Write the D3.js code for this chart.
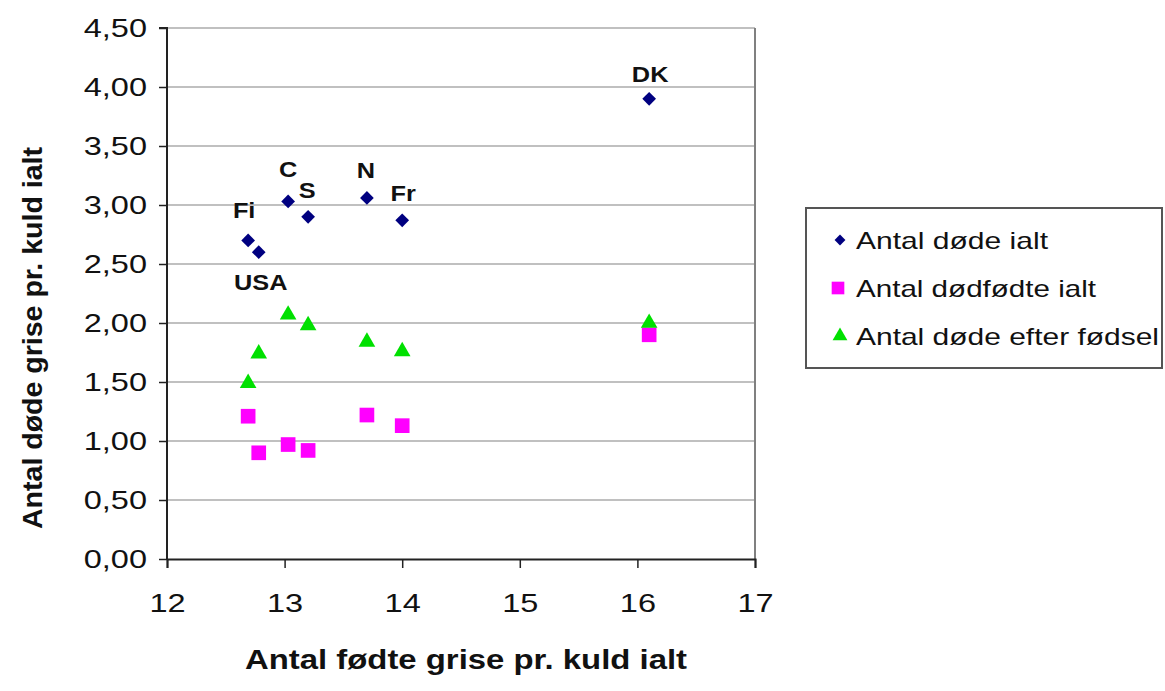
<!DOCTYPE html>
<html><head><meta charset="utf-8">
<script src="https://cdn.jsdelivr.net/npm/d3@7"></script>
<style>body{margin:0;background:#fff;} svg{display:block;font-family:"Liberation Sans",Arial,sans-serif;}</style>
</head><body>
<svg id="chart" width="1165" height="691"></svg>
<script>
const countries = ["Fi","USA","C","S","N","Fr","DK"];
const born = [12.69, 12.78, 13.03, 13.20, 13.70, 14.00, 16.10];
const deadTotal = [2.70, 2.60, 3.03, 2.90, 3.06, 2.87, 3.90];
const stillborn = [1.21, 0.90, 0.97, 0.92, 1.22, 1.13, 1.90];
const deadAfter = [1.49, 1.74, 2.07, 1.98, 1.84, 1.76, 2.00];
const xTicks = [12, 13, 14, 15, 16, 17];
const yTicks = [0, 0.5, 1, 1.5, 2, 2.5, 3, 3.5, 4, 4.5];
const seriesNames = ["Antal døde ialt", "Antal dødfødte ialt", "Antal døde efter fødsel"];
const seriesColors = ["#000080", "#ff00ff", "#00e000"];
const labelOffsets = {Fi:[-4,-30], USA:[2,30], C:[0,-32], S:[-1,-26], N:[-1,-27], Fr:[1,-27], DK:[1,-24]};

const svg = d3.select("#chart");
const x = d3.scaleLinear().domain([12,17]).range([167,755]);
const y = d3.scaleLinear().domain([0,4.5]).range([559,28]);
const fmt = v => d3.format(".2f")(v).replace(".", ",");
const FONT = '"Liberation Sans",Arial,sans-serif';

function stretch(sel, f) {
  sel.each(function(){
    const w = this.getComputedTextLength();
    d3.select(this).attr("textLength", w*f).attr("lengthAdjust", "spacingAndGlyphs");
  });
}

// gridlines
svg.append("g").selectAll("line").data(yTicks.filter(d=>d>0)).join("line")
  .attr("x1", x(12)).attr("x2", x(17)).attr("y1", d=>y(d)).attr("y2", d=>y(d))
  .attr("stroke", "#ababab").attr("stroke-width", 1.5);
// right border
svg.append("line").attr("x1", x(17)).attr("x2", x(17)).attr("y1", y(4.5)).attr("y2", y(0))
  .attr("stroke", "#808080").attr("stroke-width", 2);

// axes
const yAxis = svg.append("g").attr("transform", `translate(${x(12)},0)`)
  .call(d3.axisLeft(y).tickValues(yTicks).tickFormat(fmt).tickSize(8).tickPadding(12));
const xAxis = svg.append("g").attr("transform", `translate(0,${y(0)})`)
  .call(d3.axisBottom(x).tickValues(xTicks).tickFormat(d=>d).tickSize(9).tickPadding(26));
[yAxis, xAxis].forEach(a => {
  a.select(".domain").attr("stroke", "#222").attr("stroke-width", 2);
  a.selectAll(".tick line").attr("stroke", "#222").attr("stroke-width", 1.5);
  a.selectAll(".tick text").attr("fill", "#111").style("font-size", "25px").style("font-family", FONT);
});
yAxis.select(".domain").attr("d", `M-8,${y(4.5)}H0V${y(0)}`);
stretch(yAxis.selectAll(".tick text"), 1.3);
stretch(xAxis.selectAll(".tick text"), 1.3);

// axis titles
const xt = svg.append("text").attr("x", 466).attr("y", 669).attr("text-anchor", "middle")
  .style("font-size", "27px").style("font-weight", "bold").attr("fill", "#111")
  .text("Antal fødte grise pr. kuld ialt");
xt.attr("textLength", 442).attr("lengthAdjust", "spacingAndGlyphs");
const yt = svg.append("text").attr("transform", "translate(42,338) rotate(-90)").attr("text-anchor", "middle")
  .style("font-size", "27px").style("font-weight", "bold").attr("fill", "#111")
  .text("Antal døde grise pr. kuld ialt");
yt.attr("textLength", 382).attr("lengthAdjust", "spacingAndGlyphs");

const data = countries.map((c,i)=>({c, x:born[i], a:deadTotal[i], s:stillborn[i], t:deadAfter[i]}));
const diamond = d3.symbol().type(d3.symbolDiamond2).size(120);
const square = d3.symbol().type(d3.symbolSquare).size(215);
const triangle = d3.symbol().type(d3.symbolTriangle).size(120);

svg.append("g").selectAll("path").data(data).join("path")
  .attr("transform", d=>`translate(${x(d.x)},${y(d.s)})`).attr("d", square).attr("fill", seriesColors[1]);
svg.append("g").selectAll("path").data(data).join("path")
  .attr("transform", d=>`translate(${x(d.x)},${y(d.t)})`).attr("d", triangle).attr("fill", seriesColors[2]);
svg.append("g").selectAll("path").data(data).join("path")
  .attr("transform", d=>`translate(${x(d.x)},${y(d.a)})`).attr("d", diamond).attr("fill", seriesColors[0]);

// labels
const lbl = svg.append("g").selectAll("text").data(data).join("text")
  .attr("x", d=>x(d.x)+labelOffsets[d.c][0]).attr("y", d=>y(d.a)+labelOffsets[d.c][1])
  .attr("text-anchor", "middle").attr("dominant-baseline", "central")
  .style("font-size", "22px").style("font-weight", "bold").attr("fill", "#111")
  .text(d=>d.c);
stretch(lbl, 1.15);

// legend
const lg = svg.append("g");
lg.append("rect").attr("x", 806).attr("y", 208).attr("width", 356).attr("height", 160)
  .attr("fill", "#fff").attr("stroke", "#555").attr("stroke-width", 2);
const legY = [240, 288, 336];
const legSyms = [d3.symbol().type(d3.symbolDiamond2).size(75), d3.symbol().type(d3.symbolSquare).size(160), d3.symbol().type(d3.symbolTriangle).size(95)];
const legLen = [192, 240, 303];
seriesNames.forEach((n,i)=>{
  lg.append("path").attr("transform", `translate(${i===1?838:840},${legY[i]})`).attr("d", legSyms[i]())
    .attr("fill", seriesColors[i]);
  lg.append("text").attr("x", 856).attr("y", legY[i]).attr("dominant-baseline", "central")
    .style("font-size", "24px").attr("fill", "#111")
    .attr("textLength", legLen[i]).attr("lengthAdjust", "spacingAndGlyphs").text(n);
});
</script>
</body></html>
